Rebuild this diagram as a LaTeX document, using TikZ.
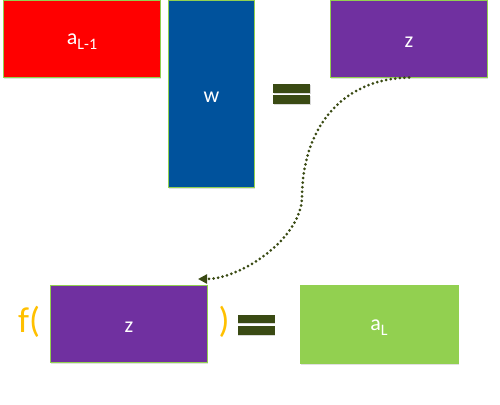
\documentclass[tikz,border=0pt]{standalone}
\usepackage{fontspec}
\setmainfont{Carlito}
\usetikzlibrary{shadows,arrows.meta}
\definecolor{cred}{HTML}{FF0000}
\definecolor{cblue}{HTML}{00529C}
\definecolor{cpurple}{HTML}{7030A0}
\definecolor{cgreen}{HTML}{92D050}
\definecolor{colive}{HTML}{3A4A13}
\definecolor{corange}{HTML}{FFC000}
\tikzset{
  mbox/.style={draw=cgreen, line width=1.2pt, inner sep=0pt, outer sep=0pt,
    text=white, font=\fontsize{22}{24}\selectfont,
    drop shadow={shadow xshift=0.8pt, shadow yshift=-1.5pt, opacity=0.12, fill=black}},
  lbl/.style={text=white, font=\fontsize{22}{24}\selectfont, inner sep=0pt},
  eqbar/.style={fill=colive, draw=none, minimum width=37pt, minimum height=8.5pt, inner sep=0pt,
    drop shadow={shadow xshift=0.8pt, shadow yshift=-1pt, opacity=0.15, fill=black}},
  paren/.style={text=corange, font=\fontsize{36}{40}\selectfont, inner sep=0pt},
  flow/.style={colive, line width=3pt, line cap=round, dash pattern=on 0pt off 4.6pt,
    -{Triangle[length=9pt,width=9pt]}},
}
\begin{document}
\begin{tikzpicture}[x=1pt,y=-1pt]
\useasboundingbox (0,0) rectangle (500,404);
\fill[white] (0,0) rectangle (500,404);
% top row
\node[mbox, fill=cred, minimum width=157pt, minimum height=77pt] (aprev) at (82,39) {};
\node[lbl] (aprevt) at (82,42) {a\raisebox{-0.45ex}{\fontsize{16}{18}\selectfont L-1}};
\node[mbox, fill=cblue, minimum width=86pt, minimum height=187pt] (w) at (211.5,94) {};
\node[lbl] (wt) at (211.5,97) {w};
\node[eqbar] (eqa1) at (291.5,88.5) {};
\node[eqbar] (eqa2) at (291.5,99.5) {};
\node[mbox, fill=cpurple, minimum width=157pt, minimum height=77pt] (ztop) at (409,39) {};
\node[lbl] (ztopt) at (409,42) {z};
% bottom row
\node[paren] (fopen) at (29,322) {f(};
\node[mbox, fill=cpurple, minimum width=157pt, minimum height=77pt] (zbot) at (129,324) {};
\node[lbl] (zbott) at (129,327) {z};
\node[paren] (fclose) at (224,322) {)};
\node[eqbar] (eqb1) at (256,319) {};
\node[eqbar] (eqb2) at (256,330.5) {};
\node[mbox, fill=cgreen, minimum width=158pt, minimum height=78pt] (al) at (379.5,324.5) {};
\node[lbl] (alt) at (379,328) {a\raisebox{-0.45ex}{\fontsize{16}{18}\selectfont L}};
% connector
\coordinate (mid) at (302,198);
\coordinate (tipend) at (198,279);
\draw[flow] (ztop.south) .. controls (340,79) and (302,130) .. (mid)
  .. controls (300,240) and (240,279) .. (tipend);
\end{tikzpicture}
\end{document}
